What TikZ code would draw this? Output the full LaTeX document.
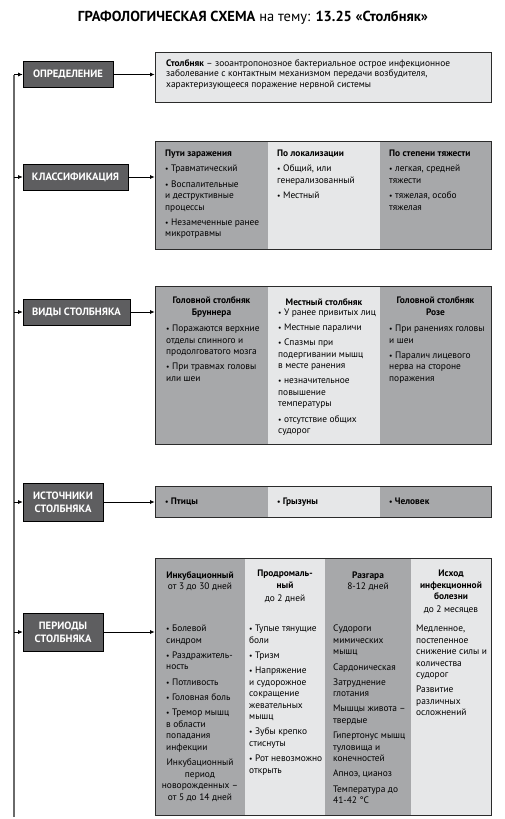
\documentclass[tikz,border=0pt]{standalone}
\usepackage{fontspec}
\usepackage{graphicx}
\setmainfont{PT Sans}
\usetikzlibrary{arrows.meta}
\definecolor{lblfill}{HTML}{5E5E60}
\definecolor{midgray}{HTML}{A7A8AA}
\definecolor{ltgray}{HTML}{E6E7E8}
\definecolor{edge}{HTML}{2B2B2B}
\definecolor{trunkgray}{HTML}{6A6A6A}
\newcommand{\itemdot}{{\scalebox{0.8}{•}}~}
\begin{document}
\begin{tikzpicture}[x=1pt,y=-1pt,
 lbl/.style={draw=black, line width=0.6pt, fill=lblfill, text=white, font=\bfseries\fontsize{10.6}{13}\selectfont, align=center, inner sep=0pt, minimum height=26pt},
 body/.style={font=\fontsize{9.4}{11.5}\selectfont},
 txt/.style={body, anchor=north west, inner sep=0pt, align=left, execute at begin node=\strut, yshift=8.05pt},
 ctxt/.style={body, anchor=north, inner sep=0pt, align=center, execute at begin node=\strut, yshift=8.05pt},
 bctxt/.style={ctxt, font=\bfseries\fontsize{9.4}{11.5}\selectfont},
 frame/.style={draw=edge, line width=0.8pt, inner sep=0pt},
 arr/.style={-{Latex[length=4.5pt,width=4pt]}, line width=0.7pt, black},
]
\useasboundingbox (0,0) rectangle (504,819);

% title
\node[font=\fontsize{14.5}{16}\selectfont, anchor=base, inner sep=0pt] (title) at (253,21) {\textbf{ГРАФОЛОГИЧЕСКАЯ СХЕМА} на тему: \textbf{13.25 «Столбняк»}};

% ---------- right side boxes ----------
% definition
\node[frame, fill=ltgray, minimum width=336pt, minimum height=50pt] (def) at (323,77) {};
\node[txt, font=\fontsize{9.4}{10.5}\selectfont, yshift=-0.7pt] (deft) at (166,66.5) {\textbf{Столбняк} – зооантропонозное бактериальное острое инфекционное\\заболевание с контактным механизмом передачи возбудителя,\\характеризующееся поражение нервной системы};

% classification
\fill[midgray] (155,141) rectangle (268,249);
\fill[ltgray] (268,141) rectangle (380,249);
\fill[midgray] (380,141) rectangle (491,249);
\node[frame, minimum width=336pt, minimum height=108pt] (klass) at (323,195) {};
\node[txt] (k1) at (165,158) {{\bfseries Пути заражения}\\[3.7pt]\itemdot Травматический\\[3.7pt]\itemdot Воспалительные\\и деструктивные\\процессы\\[3.7pt]\itemdot Незамеченные ранее\\микротравмы};
\node[txt] (k2) at (277,158) {{\bfseries По локализации}\\[3.7pt]\itemdot Общий, или\\генерализованный\\[3.7pt]\itemdot Местный};
\node[txt] (k3) at (389,158) {{\bfseries По степени тяжести}\\[3.7pt]\itemdot легкая, средней\\тяжести\\[3.7pt]\itemdot тяжелая, особо\\тяжелая};

% types
\fill[midgray] (155,286) rectangle (268,444);
\fill[ltgray] (268,286) rectangle (380,444);
\fill[midgray] (380,286) rectangle (491,444);
\node[frame, minimum width=336pt, minimum height=158pt] (vidy) at (323,365) {};
\node[bctxt] (v1h) at (211.5,305) {Головной столбняк\\Бруннера};
\node[txt] (v1) at (166,333) {\itemdot Поражаются верхние\\отделы спинного и\\продолговатого мозга\\[3.7pt]\itemdot При травмах головы\\или шеи};
\node[bctxt] (v2h) at (324,305) {Местный столбняк};
\node[txt] (v2) at (278,316.6) {\itemdot У ранее привитых лиц\\[3.7pt]\itemdot Местные параличи\\[3.7pt]\itemdot Спазмы при\\подергивании мышц\\в месте ранения\\[3.7pt]\itemdot незначительное\\повышение\\температуры\\[3.7pt]\itemdot отсутствие общих\\судорог};
\node[bctxt] (v3h) at (435.5,305) {Головной столбняк\\Розе};
\node[txt] (v3) at (389,333) {\itemdot При ранениях головы\\и шеи\\[3.7pt]\itemdot Паралич лицевого\\нерва на стороне\\поражения};

% sources
\fill[midgray] (155,486) rectangle (268,517);
\fill[ltgray] (268,486) rectangle (380,517);
\fill[midgray] (380,486) rectangle (491,517);
\node[frame, minimum width=336pt, minimum height=31pt] (ist) at (323,501.5) {};
\node[txt, font=\bfseries\fontsize{9.4}{11.5}\selectfont] (i1) at (165,504) {\itemdot Птицы};
\node[txt, font=\bfseries\fontsize{9.4}{11.5}\selectfont] (i2) at (277,504) {\itemdot Грызуны};
\node[txt, font=\bfseries\fontsize{9.4}{11.5}\selectfont] (i3) at (389,504) {\itemdot Человек};

% periods
\fill[midgray] (155,558) rectangle (245,815);
\fill[ltgray] (245,558) rectangle (325,815);
\fill[midgray] (325,558) rectangle (411,815);
\fill[ltgray] (411,558) rectangle (491,815);
\node[frame, minimum width=336pt, minimum height=257pt] (per) at (323,686.5) {};
\node[bctxt] (p1h) at (200,578) {Инкубационный};
\node[ctxt] (p1s) at (200,589.5) {от 3 до 30 дней};
\node[txt] (p1) at (166,633) {\itemdot Болевой\\синдром\\[3.7pt]\itemdot Раздражитель-\\ность\\[3.7pt]\itemdot Потливость\\[3.7pt]\itemdot Головная боль\\[3.7pt]\itemdot Тремор мышц\\в области\\попадания\\инфекции};
\node[ctxt] (p1n) at (200,767) {Инкубационный\\период\\новорожденных –\\от 5 до 14 дней};
\node[bctxt] (p2h) at (285,578) {Продромаль-\\ный};
\node[ctxt] (p2s) at (285,601) {до 2 дней};
\node[txt] (p2) at (249,633) {\itemdot Тупые тянущие\\боли\\[3.7pt]\itemdot Тризм\\[3.7pt]\itemdot Напряжение\\и судорожное\\сокращение\\жевательных\\мышц\\[3.7pt]\itemdot Зубы крепко\\стиснуты\\[3.7pt]\itemdot Рот невозможно\\открыть};
\node[bctxt] (p3h) at (368,578) {Разгара};
\node[ctxt] (p3s) at (368,589.5) {8-12 дней};
\node[txt] (p3) at (333,633) {Судороги\\мимических\\мышц\\[3.7pt]Сардоническая\\[3.7pt]Затруднение\\глотания\\[3.7pt]Мышцы живота –\\твердые\\[3.7pt]Гипертонус мышц\\туловища и\\конечностей\\[3.7pt]Апноэ, цианоз\\[3.7pt]Температура до\\41-42 °С};
\node[bctxt] (p4h) at (451,578) {Исход\\инфекционной\\болезни};
\node[ctxt] (p4s) at (451,612.5) {до 2 месяцев};
\node[txt] (p4) at (416,633) {Медленное,\\постепенное\\снижение силы и\\количества\\судорог\\[3.7pt]Развитие\\различных\\осложнений};

% ---------- labels ----------
\node[lbl, minimum width=90pt] (l1) at (68,74.5) {ОПРЕДЕЛЕНИЕ};
\node[lbl, minimum width=105pt] (l2) at (75.5,177) {КЛАССИФИКАЦИЯ};
\node[lbl, minimum width=107pt] (l3) at (76.5,312) {ВИДЫ СТОЛБНЯКА};
\node[lbl, minimum width=80pt, minimum height=38pt] (l4) at (63,502) {ИСТОЧНИКИ\\СТОЛБНЯКА};
\node[lbl, minimum width=80pt, minimum height=38pt] (l5) at (63,632) {ПЕРИОДЫ\\СТОЛБНЯКА};

% ---------- trunk and connectors ----------
\coordinate (top) at (14,74.5);
\coordinate (bot) at (14,817);
\draw[trunkgray, line width=1.3pt] (bot) -- (top);
\draw[arr] (top) -- (l1.west);
\draw[arr] (l2.west -| top) -- (l2.west);
\draw[arr] (l3.west -| top) -- (l3.west);
\draw[arr] (l4.west -| top) -- (l4.west);
\draw[arr] (l5.west -| top) -- (l5.west);
\draw[arr] (l1.east) -- (l1.east -| def.west);
\draw[arr] (l2.east) -- (l2.east -| klass.west);
\draw[arr] (l3.east) -- (l3.east -| vidy.west);
\draw[arr] (l4.east) -- (l4.east -| ist.west);
\draw[arr] (l5.east) -- (l5.east -| per.west);
\end{tikzpicture}
\end{document}
